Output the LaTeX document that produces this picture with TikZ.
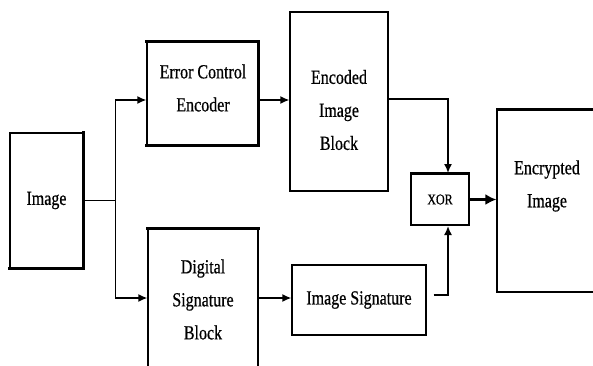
\documentclass[tikz,border=0pt]{standalone}
\usepackage{fontspec}
\setmainfont[FakeStretch=0.8,FakeBold=0.6]{Liberation Serif}
\usetikzlibrary{arrows.meta}
\begin{document}
\begin{tikzpicture}[x=1pt,y=-1pt,
 box/.style={draw, line width=1.2pt, inner sep=0pt, align=center, font=\fontsize{20}{33}\selectfont},
 lbl/.style={align=center, inner sep=0pt, font=\fontsize{20}{33}\selectfont},
 heavy/.style={line width=3pt, line cap=rect},
 conn/.style={line width=1.6pt, -{Latex[length=9pt,width=8pt]}}]
\useasboundingbox (0,0) rectangle (593,365);
\clip (0,0) rectangle (593,365);
% boxes
\node[box, minimum width=73pt, minimum height=135pt] (img) at (46.5,200.5) {Image};
\node[box, minimum width=111pt, minimum height=103pt] (ece) at (202.5,93.5) {};
\node[lbl] (eceT) at (203,88) {Error Control\\Encoder};
\node[box, minimum width=110pt, minimum height=141pt] (dsb) at (203,299.5) {Digital\\Signature\\Block};
\node[box, minimum width=98pt, minimum height=179pt] (enc) at (339,101.5) {};
\node[lbl] (encT) at (339,110) {Encoded\\Image\\Block};
\node[box, line width=2pt, minimum width=58pt, minimum height=51pt, font=\fontsize{15}{18}\selectfont] (xor) at (440,199.5) {XOR};
\node[box, minimum width=103pt, minimum height=182pt] (out) at (548.5,201) {};
\node[lbl] (outT) at (547,186) {Encrypted\\Image};
\node[box, minimum width=134pt, minimum height=70pt] (sig) at (359,300) {Image Signature};
% heavy edges
\draw[heavy] (img.north east) -- (img.south east) -- (img.south west);
\draw[heavy] (ece.north west) -- (ece.north east) -- (ece.south east) -- (ece.south west);
\draw[heavy] (dsb.north west) -- (dsb.north east);
\draw[line width=2.2pt] (out.north west) -- (out.north east);
\draw[line width=2.2pt] (xor.north west) -- (xor.north east);
% connectors
\coordinate (split) at ([xshift=32pt]img.east);
\draw[conn] (img.east) -- (split) |- (ece.west |- 0,100);
\draw[conn] (split) |- (dsb.west |- 0,298);
\draw[conn] (ece.east |- 0,100) -- (enc.west |- 0,100);
\draw[conn] (enc.east |- 0,99) -| (xor.north -| 448,0);
\draw[conn] (dsb.east |- 0,298) -- (sig.west |- 0,298);
\draw[conn, shorten <=7pt] (sig.east |- 0,295) -| (xor.south -| 448,0);
\draw[line width=3.5pt, -{Latex[length=11pt,width=11pt]}] (xor.east) -- (out.west |- xor.east);
\end{tikzpicture}
\end{document}
